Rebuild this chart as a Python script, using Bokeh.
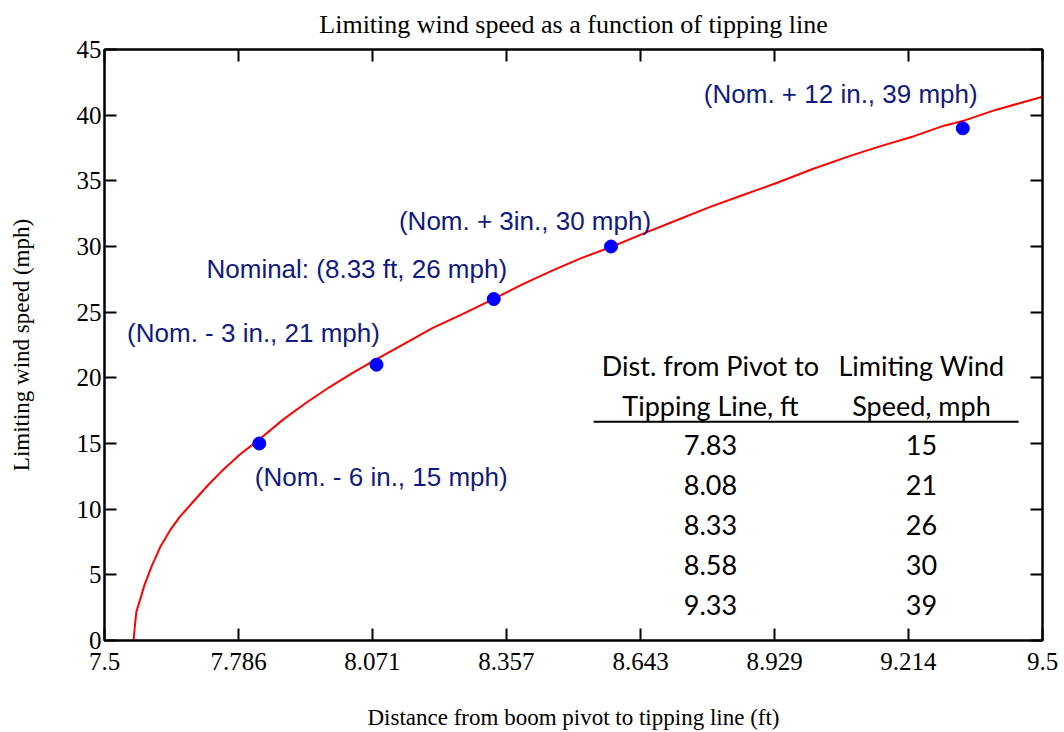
from bokeh.plotting import figure
from bokeh.models import (FixedTicker, LinearAxis, CustomJSTickFormatter,
                          ColumnDataSource, Range1d)
from bokeh.core.properties import value
from bokeh.embed import file_html
from bokeh.resources import INLINE

# --- data -----------------------------------------------------------------
# limiting wind speed curve (distance from pivot in ft, speed in mph)
curve_dist = [7.562, 7.565, 7.568, 7.575, 7.585, 7.600, 7.620, 7.640, 7.660,
              7.690, 7.720, 7.750, 7.790, 7.833, 7.880, 7.930, 7.980, 8.030,
              8.084, 8.140, 8.200, 8.260, 8.329, 8.390, 8.451, 8.515, 8.583,
              8.650, 8.720, 8.790, 8.860, 8.930, 9.010, 9.090, 9.160, 9.226,
              9.290, 9.334, 9.400, 9.460, 9.500]
curve_speed = [0.0, 1.2, 2.2, 3.0, 4.2, 5.6, 7.2, 8.4, 9.4,
               10.6, 11.8, 12.9, 14.2, 15.4, 16.8, 18.1, 19.3, 20.4,
               21.5, 22.6, 23.8, 24.8, 26.0, 27.1, 28.1, 29.1, 30.0,
               31.0, 32.0, 33.0, 33.9, 34.8, 35.9, 36.9, 37.7, 38.4,
               39.2, 39.6, 40.4, 41.0, 41.4]

# highlighted configurations (table values)
case_dist = [7.83, 8.08, 8.33, 8.58, 9.33]
case_speed = [15, 21, 26, 30, 39]
case_labels = ["(Nom. - 6 in., 15 mph)", "(Nom. - 3 in., 21 mph)",
               "Nominal: (8.33 ft, 26 mph)", "(Nom. + 3in., 30 mph)",
               "(Nom. + 12 in., 39 mph)"]

table_head_dist = ["Dist. from Pivot to", "Tipping Line, ft"]
table_head_speed = ["Limiting Wind", "Speed, mph"]
table_dist = ["7.83", "8.08", "8.33", "8.58", "9.33"]
table_speed = ["15", "21", "26", "30", "39"]

x_ticks = [7.5, 7.786, 8.071, 8.357, 8.643, 8.929, 9.214, 9.5]
x_tick_labels = ["7.5", "7.786", "8.071", "8.357", "8.643", "8.929", "9.214", "9.5"]
y_ticks = [0, 5, 10, 15, 20, 25, 30, 35, 40, 45]

# --- figure ---------------------------------------------------------------
SERIF = "Liberation Serif"
p = figure(width=1064, height=732, x_range=Range1d(7.5, 9.5), y_range=Range1d(0, 45),
           output_backend="svg", toolbar_location=None,
           min_border_left=104, min_border_right=22, min_border_top=49,
           min_border_bottom=91, x_axis_location=None, y_axis_location=None)
p.background_fill_color = "white"
p.border_fill_color = "white"
p.xgrid.grid_line_color = None
p.ygrid.grid_line_color = None
p.outline_line_color = "black"
p.outline_line_width = 2

p.title.text = "Limiting wind speed as a function of tipping line"
p.title.align = "center"
p.title.vertical_align = "top"
p.title.text_font = SERIF
p.title.text_font_style = "normal"
p.title.text_font_size = "26px"
p.title.text_color = "black"
p.title.standoff = 17


def style_axis(ax, labelled):
    ax.axis_line_width = 2
    ax.axis_line_color = "black"
    ax.major_tick_line_width = 2
    ax.major_tick_line_color = "black"
    ax.major_tick_in = 12
    ax.major_tick_out = 0
    ax.minor_tick_line_color = None
    ax.major_label_text_font = SERIF
    ax.major_label_text_font_size = "25px"
    ax.major_label_text_color = "black"
    ax.axis_label_text_font = SERIF
    ax.axis_label_text_font_size = "23px"
    ax.axis_label_text_font_style = "normal"
    ax.axis_label_text_color = "black"
    if not labelled:
        ax.formatter = CustomJSTickFormatter(code="return ''")
        ax.major_label_standoff = 0


xt = FixedTicker(ticks=x_ticks)
yt = FixedTicker(ticks=y_ticks)

bottom = LinearAxis(ticker=xt, axis_label="Distance from boom pivot to tipping line (ft)")
bottom.major_label_overrides = {t: s for t, s in zip(x_ticks, x_tick_labels)}
style_axis(bottom, True)
bottom.major_label_standoff = 12
bottom.axis_label_standoff = 32
p.add_layout(bottom, "below")

left = LinearAxis(ticker=yt, axis_label="Limiting wind speed (mph)")
style_axis(left, True)
left.major_label_standoff = 3
left.axis_label_standoff = 40
p.add_layout(left, "left")

top = LinearAxis(ticker=xt)
style_axis(top, False)
p.add_layout(top, "above")

right = LinearAxis(ticker=yt)
style_axis(right, False)
p.add_layout(right, "right")

# --- curve and highlighted points -----------------------------------------
p.line(curve_dist, curve_speed, line_color="#ff0000", line_width=2)

# label placement relative to each point (screen pixels)
label_dx = [122, -123, -137, -86, -122]
label_dy = [33, -32, -30, -26, -34]
pts = ColumnDataSource(dict(x=case_dist, y=case_speed, text=case_labels,
                            dx=label_dx, dy=label_dy))
p.scatter("x", "y", source=pts, size=13, fill_color="#0000ff", line_color="#0000ff")
p.text("x", "y", text="text", source=pts, x_offset="dx", y_offset="dy",
       text_font=value("Liberation Sans"), text_font_size="26px",
       text_color="#101a80", text_align="center", text_baseline="middle")

# --- summary table ----------------------------------------------------------
TABLE_FONT = value("Lato")
col_x = [8.792, 9.242]
head_y = 20.97
row_y = 14.92
row_step = 40  # pixels between rows

for cx, head, rows in ((col_x[0], table_head_dist, table_dist),
                       (col_x[1], table_head_speed, table_speed)):
    p.text([cx] * len(head), [head_y] * len(head), text=head,
           y_offset=[i * row_step for i in range(len(head))],
           text_font=TABLE_FONT, text_font_size="27px", text_color="black",
           text_align="center", text_baseline="middle")
    p.text([cx] * len(rows), [row_y] * len(rows), text=rows,
           y_offset=[i * row_step for i in range(len(rows))],
           text_font=TABLE_FONT, text_font_size="27px", text_color="black",
           text_align="center", text_baseline="middle")

p.segment(x0=[8.543], y0=[16.66], x1=[9.449], y1=[16.66],
          line_color="black", line_width=2)

open("out.html", "w").write(file_html(p, INLINE))
